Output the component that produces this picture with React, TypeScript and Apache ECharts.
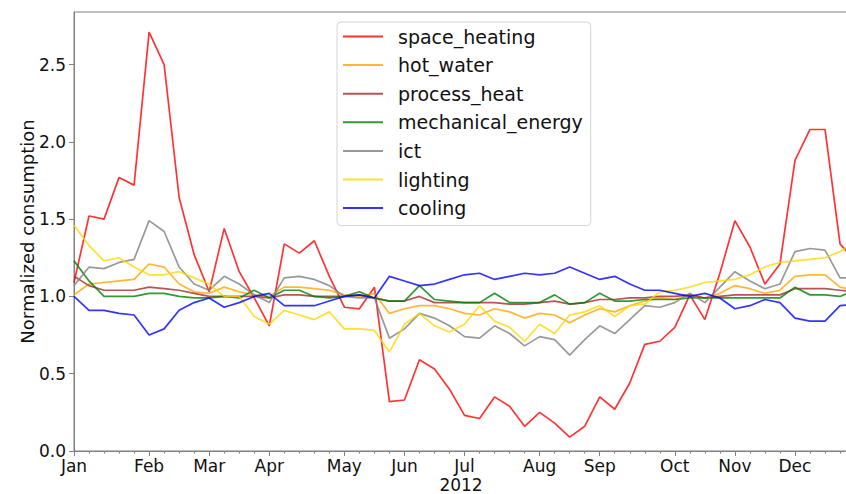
import React, { useEffect, useRef } from "react";
import * as echarts from "echarts";

const monthLabels = ["Jan", "Feb", "Mar", "Apr", "May", "Jun", "Jul", "Aug", "Sep", "Oct", "Nov", "Dec"];
const monthWeekIdx = [0, 5, 9, 13, 18, 22, 26, 31, 35, 40, 44, 48];
const yTicks = [0, 0.5, 1.0, 1.5, 2.0, 2.5];

const spaceHeating = [1.09, 1.52, 1.50, 1.77, 1.72, 2.71, 2.50, 1.64, 1.27, 1.03, 1.44, 1.16, 0.99, 0.81, 1.34, 1.28, 1.36, 1.13, 0.93, 0.92, 1.06, 0.32, 0.33, 0.59, 0.53, 0.40, 0.23, 0.21, 0.35, 0.29, 0.16, 0.25, 0.18, 0.09, 0.16, 0.35, 0.27, 0.44, 0.69, 0.71, 0.80, 1.01, 0.85, 1.15, 1.49, 1.32, 1.08, 1.21, 1.88, 2.08, 2.08, 1.34, 1.23];
const hotWater = [1.01, 1.08, 1.09, 1.10, 1.11, 1.21, 1.19, 1.08, 1.03, 1.02, 1.06, 1.03, 1.01, 1.00, 1.06, 1.06, 1.05, 1.04, 1.01, 1.00, 1.02, 0.89, 0.92, 0.94, 0.94, 0.92, 0.89, 0.88, 0.92, 0.90, 0.86, 0.89, 0.88, 0.83, 0.88, 0.92, 0.90, 0.94, 0.97, 0.99, 0.98, 1.01, 0.99, 1.02, 1.07, 1.05, 1.02, 1.04, 1.13, 1.14, 1.14, 1.06, 1.04];
const processHeat = [1.13, 1.07, 1.04, 1.04, 1.04, 1.06, 1.05, 1.04, 1.02, 1.00, 1.00, 1.00, 1.00, 0.99, 1.01, 1.01, 1.00, 1.00, 1.00, 1.01, 0.99, 0.97, 0.97, 1.00, 0.96, 0.96, 0.96, 0.96, 0.96, 0.95, 0.95, 0.96, 0.97, 0.95, 0.96, 0.98, 0.98, 0.99, 0.99, 1.00, 1.00, 1.01, 0.99, 1.00, 1.01, 1.01, 1.01, 1.01, 1.05, 1.05, 1.05, 1.04, 1.03];
const mechanicalEnergy = [1.23, 1.10, 1.00, 1.00, 1.00, 1.02, 1.02, 1.00, 0.99, 0.99, 1.00, 0.99, 1.04, 0.99, 1.04, 1.04, 1.00, 0.99, 1.00, 1.03, 0.99, 0.97, 0.97, 1.07, 0.98, 0.97, 0.96, 0.96, 1.02, 0.96, 0.96, 0.96, 1.01, 0.95, 0.96, 1.02, 0.97, 0.97, 0.98, 0.98, 0.98, 0.99, 0.99, 0.99, 0.99, 0.99, 0.99, 0.99, 1.06, 1.01, 1.01, 1.00, 1.04];
const ict = [1.07, 1.19, 1.18, 1.22, 1.24, 1.49, 1.42, 1.19, 1.08, 1.04, 1.13, 1.08, 1.01, 0.96, 1.12, 1.13, 1.11, 1.07, 1.00, 0.99, 0.99, 0.73, 0.79, 0.89, 0.86, 0.81, 0.74, 0.73, 0.81, 0.76, 0.68, 0.74, 0.72, 0.62, 0.72, 0.81, 0.76, 0.85, 0.94, 0.93, 0.96, 1.02, 0.96, 1.06, 1.16, 1.10, 1.05, 1.08, 1.29, 1.31, 1.30, 1.12, 1.12];
const lighting = [1.46, 1.33, 1.23, 1.25, 1.19, 1.14, 1.14, 1.16, 1.12, 1.08, 1.00, 1.00, 0.87, 0.82, 0.91, 0.88, 0.85, 0.90, 0.79, 0.79, 0.78, 0.64, 0.82, 0.89, 0.81, 0.77, 0.82, 0.94, 0.84, 0.80, 0.71, 0.82, 0.76, 0.88, 0.90, 0.94, 0.87, 0.94, 0.95, 1.03, 1.04, 1.06, 1.09, 1.10, 1.11, 1.14, 1.19, 1.22, 1.23, 1.24, 1.25, 1.29, 1.35];
const cooling = [1.00, 0.91, 0.91, 0.89, 0.88, 0.75, 0.79, 0.91, 0.96, 0.99, 0.93, 0.96, 1.00, 1.02, 0.94, 0.94, 0.94, 0.97, 1.00, 1.01, 0.99, 1.13, 1.10, 1.07, 1.08, 1.11, 1.14, 1.15, 1.11, 1.13, 1.15, 1.14, 1.15, 1.19, 1.15, 1.11, 1.13, 1.08, 1.04, 1.04, 1.02, 1.00, 1.02, 0.99, 0.92, 0.94, 0.98, 0.96, 0.86, 0.84, 0.84, 0.94, 0.95];

const seriesNames = ["space_heating", "hot_water", "process_heat", "mechanical_energy", "ict", "lighting", "cooling"];
const seriesValues = [spaceHeating, hotWater, processHeat, mechanicalEnergy, ict, lighting, cooling];
const seriesColors = ["#ff0000", "#ffa500", "#a52a2a", "#008000", "#808080", "#ffd700", "#0000ff"];

const FONT = "DejaVu Sans";
const XMAX = 51.53;

export default function App() {
  const ref = useRef<HTMLDivElement>(null);
  useEffect(() => {
    document.body.style.margin = "0";
    const chart = echarts.init(ref.current!, null, { renderer: "svg" });
    const series = seriesNames.map((name, k) => ({
      name,
      type: "line",
      symbol: "none",
      xAxisIndex: 0,
      yAxisIndex: 0,
      data: seriesValues[k].map((v, i) => [i, v]),
      lineStyle: { color: seriesColors[k], width: 1.7, opacity: 0.8 },
      itemStyle: { color: seriesColors[k], opacity: 0.8 },
    }));
    chart.setOption({
      animation: false,
      backgroundColor: "#ffffff",
      textStyle: { fontFamily: FONT },
      grid: {
        left: 74,
        top: 12,
        right: -2,
        bottom: 43,
        outerBoundsMode: "none",
        containLabel: false,
        show: true,
        borderColor: "#808080",
        borderWidth: 1,
      },
      legend: {
        data: seriesNames,
        orient: "vertical",
        left: 337,
        top: 22,
        icon: "rect",
        itemWidth: 40,
        itemHeight: 2,
        itemGap: 9.6,
        padding: [5, 8, 8, 6],
        borderColor: "#d4d4d4",
        borderWidth: 1,
        borderRadius: 4,
        backgroundColor: "rgba(255,255,255,0.85)",
        textStyle: { fontFamily: FONT, fontSize: 19, color: "#111", padding: [0, 0, 0, 10] },
      },
      xAxis: [
        {
          type: "value",
          min: 0,
          max: XMAX,
          position: "bottom",
          name: "2012",
          nameLocation: "middle",
          nameGap: 25,
          nameMoveOverlap: false,
          nameTextStyle: { fontFamily: FONT, fontSize: 17, color: "#111" },
          axisLine: { show: true, lineStyle: { color: "#808080", width: 1 } },
          axisTick: { show: true, customValues: monthWeekIdx, length: 5, lineStyle: { color: "#808080" } },
          axisLabel: {
            customValues: monthWeekIdx,
            formatter: (v: number) => monthLabels[monthWeekIdx.indexOf(Math.round(v))] ?? "",
            fontFamily: FONT,
            fontSize: 17,
            color: "#111",
            margin: 6,
          },
          splitLine: { show: false },
        },
        {
          type: "value",
          min: 0,
          max: XMAX,
          interval: 1,
          position: "bottom",
          axisLine: { show: false },
          axisTick: { show: true, length: 2.5, lineStyle: { color: "#808080" } },
          axisLabel: { show: false },
          splitLine: { show: false },
        },
      ],
      yAxis: {
        type: "value",
        min: 0,
        max: 2.84,
        name: "Normalized consumption",
        nameLocation: "middle",
        nameGap: 38,
        nameMoveOverlap: false,
        nameTextStyle: { fontFamily: FONT, fontSize: 18, color: "#111" },
        axisLine: { show: true, lineStyle: { color: "#808080", width: 1 } },
        axisTick: { show: true, customValues: yTicks, length: 5, lineStyle: { color: "#808080" } },
        axisLabel: {
          customValues: yTicks,
          formatter: (v: number) => v.toFixed(1),
          fontFamily: FONT,
          fontSize: 17,
          color: "#111",
          margin: 8,
        },
        splitLine: { show: false },
      },
      series,
    });
    return () => chart.dispose();
  }, []);
  return <div ref={ref} style={{ width: 846, height: 494 }} />;
}
